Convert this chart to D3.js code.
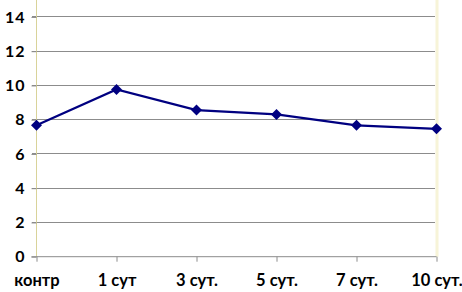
<!DOCTYPE html>
<html><head><meta charset="utf-8">
<script src="https://cdn.jsdelivr.net/npm/d3@7"></script>
<style>body{margin:0;background:#fff}svg{display:block}</style>
</head><body>
<svg id="c" width="462" height="292"></svg>
<script>
const categories = ["контр", "1 сут", "3 сут.", "5 сут.", "7 сут.", "10 сут."];
const values = [7.67, 9.77, 8.56, 8.31, 7.67, 7.47];
const yTicks = [0, 2, 4, 6, 8, 10, 12, 14];

(function () {
const svg = d3.select("#c");
const mLeft = 36.5, mRight = 436.5, mTop = -17.3, mBottom = 256.7;
const x = d3.scalePoint().domain(categories).range([mLeft, mRight]);
const y = d3.scaleLinear().domain([0, 16]).range([mBottom, mTop]);
const font = "Lato, 'Open Sans', sans-serif";

// right border (cream)
svg.append("line").attr("x1", 437).attr("x2", 437).attr("y1", 0).attr("y2", mBottom)
  .attr("stroke", "#f7f4d8").attr("stroke-width", 3);

// gridlines
svg.append("g").selectAll("line").data(yTicks.filter(d => d > 0)).join("line")
  .attr("x1", mLeft - 5).attr("x2", 435).attr("y1", d => y(d)).attr("y2", d => y(d))
  .attr("stroke", "#8c8c8c").attr("stroke-width", 1).attr("shape-rendering", "crispEdges");

// y axis
const ya = svg.append("g").attr("transform", `translate(${mLeft},0)`)
  .call(d3.axisLeft(y).tickValues(yTicks).tickSize(5).tickPadding(6).tickFormat(d3.format("d")));
ya.select(".domain").attr("stroke", "#d9d39a").attr("d", `M0,0V${mBottom}`);
ya.selectAll(".tick line").attr("stroke", "#8c8c8c");
ya.selectAll("text").attr("font-family", font).attr("font-weight", "bold").attr("font-size", 16)
  .attr("fill", "#000").attr("letter-spacing", 1);

// x axis
const xa = svg.append("g").attr("transform", `translate(0,${mBottom})`)
  .call(d3.axisBottom(x).tickSize(5).tickPadding(13));
xa.select(".domain").attr("stroke", "#8c8c8c").attr("d", `M${mLeft - 5},0H${mRight}`);
xa.selectAll(".tick line").attr("stroke", "#8c8c8c");
xa.selectAll("text").attr("font-family", font).attr("font-weight", "bold").attr("font-size", 16.5)
  .attr("fill", "#000").attr("dy", "0.68em");

// line
const line = d3.line().x((d, i) => x(categories[i])).y(d => y(d));
svg.append("path").datum(values).attr("d", line)
  .attr("fill", "none").attr("stroke", "#000080").attr("stroke-width", 2.2);

// markers
svg.append("g").selectAll("path").data(values).join("path")
  .attr("transform", (d, i) => `translate(${x(categories[i])},${y(d)})`)
  .attr("d", "M0,-5.5L5.5,0L0,5.5L-5.5,0Z").attr("fill", "#000080");
})();
</script>
</body></html>
